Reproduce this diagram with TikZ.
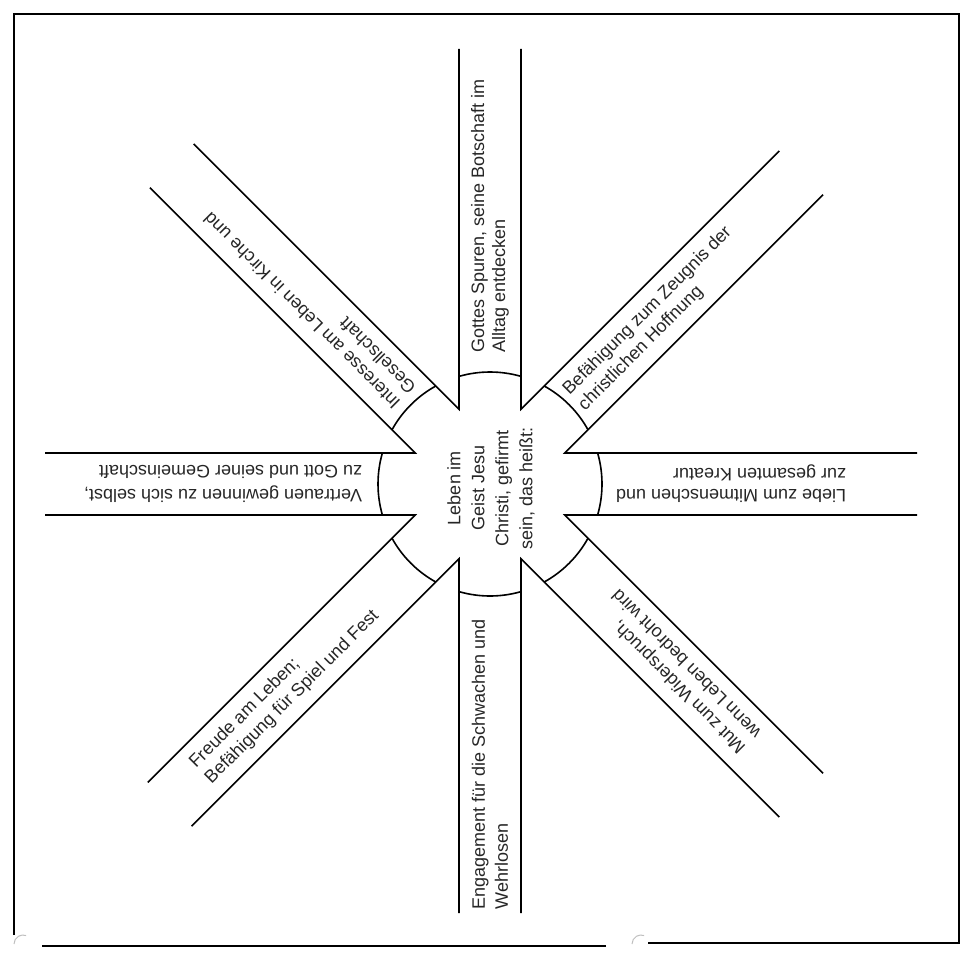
\documentclass[tikz,border=0pt]{standalone}
\usepackage{fontspec}
\setmainfont{Liberation Sans}
\usetikzlibrary{calc}
\begin{document}
\begin{tikzpicture}[x=1pt,y=1pt,line width=1.6pt,line join=miter,
  bandtext/.style={align=left,inner sep=0pt,anchor=west,text=black!85},
  frameline/.style={line width=1.4pt}]
\useasboundingbox (0,0) rectangle (973,-971);
\coordinate (C) at (490,-484);
% frame
\draw[frameline] (14,-935) -- (14,-14) -- (959,-14) -- (959,-943) -- (648,-943);
\draw[frameline] (606,-946) -- (42,-946);
\draw[black!25,line width=1pt] (14,-944) arc[start angle=180,end angle=70,radius=9];
\draw[black!25,line width=1pt] (632,-944) arc[start angle=180,end angle=70,radius=9];
% band side lines meeting in V notches
\def\w{31}\def\d{81}\def\R{112}
\foreach \a/\la/\b/\lb in {0/427/45/440,45/440/90/435,90/435/135/450,135/450/180/445,
  180/445/225/453,225/453/270/429,270/429/315/440,315/440/360/427}{
  \draw ($(C)+(\a:\la)+(\a+90:\w)$) -- ($(C)+(\a+22.5:\d)$) -- ($(C)+(\b:\lb)+(\b-90:\w)$);
}
% arcs closing each band towards the centre
\foreach \a in {0,45,...,315}{
  \draw ($(C)+(\a-16.07:\R)$) arc[start angle=\a-16.07,end angle=\a+16.07,radius=\R];
}
% texts
\node[bandtext,rotate=90,font=\fontsize{18}{21}\selectfont] (t1) at ($(C)+(90:131)$)
  {Gottes Spuren, seine Botschaft im\\Alltag entdecken};
\node[bandtext,rotate=45,font=\fontsize{18}{22}\selectfont] (t2) at ($(C)+(45:118)$)
  {Befähigung zum Zeugnis der\\christlichen Hoffnung};
\node[bandtext,rotate=180,font=\fontsize{18}{21}\selectfont] (t3) at ($(C)+(0:357)$)
  {Liebe zum Mitmenschen und\\zur gesamten Kreatur};
\node[bandtext,rotate=135,font=\fontsize{18}{22}\selectfont] (t4) at ($(C)+(-45:368)$)
  {Mut zum Widerspruch,\\wenn Leben bedroht wird};
\node[bandtext,rotate=90,font=\fontsize{18}{23}\selectfont] (t5) at ($(C)+(-90:426)$)
  {Engagement für die Schwachen und\\Wehrlosen};
\node[bandtext,rotate=45,font=\fontsize{18}{22}\selectfont] (t6) at ($(C)+(225:410)$)
  {Freude am Leben;\\Befähigung für Spiel und Fest};
\node[bandtext,rotate=180,font=\fontsize{18}{24}\selectfont] (t7) at ($(C)+(180:127)$)
  {Vertrauen gewinnen zu sich selbst,\\zu Gott und seiner Gemeinschaft};
\node[bandtext,rotate=135,font=\fontsize{18}{22}\selectfont] (t8) at ($(C)+(135:120)$)
  {Interesse am Leben in Kirche und\\Gesellschaft};
\node[rotate=90,align=center,inner sep=0pt,text=black!85,font=\fontsize{18}{24}\selectfont] (centre) at (491,-488)
  {Leben im\\Geist Jesu\\Christi, gefirmt\\sein, das heißt:};
\end{tikzpicture}
\end{document}
